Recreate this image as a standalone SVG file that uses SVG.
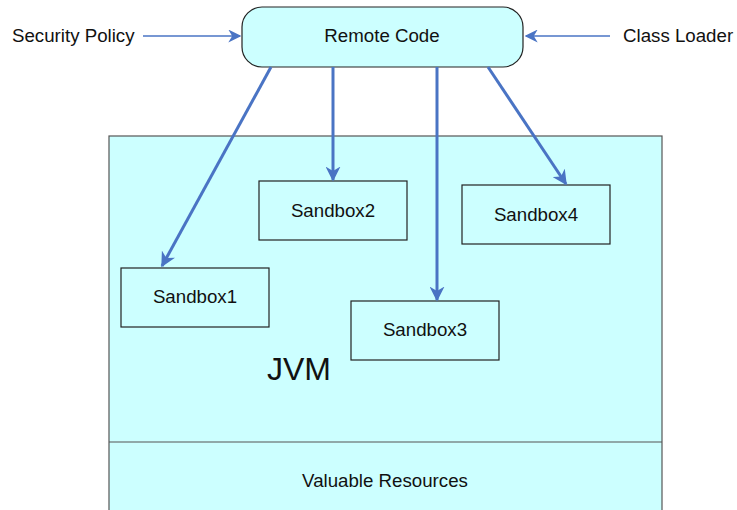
<svg xmlns="http://www.w3.org/2000/svg" width="737" height="510" viewBox="0 0 737 510">
  <style>
    .box { fill: #ccffff; stroke: #222; stroke-width: 1.2; }
    .outer { fill: #ccffff; stroke: #555; stroke-width: 1.2; }
    .lbl { font-family: "Liberation Sans", Arial, sans-serif; font-size: 18.7px; fill: #111; }
    .big { font-size: 32px; }
    .mid { text-anchor: middle; }
    .flow { stroke: #4a74c4; stroke-width: 3; fill: none; }
    .thin { stroke: #4a74c4; stroke-width: 1.3; fill: none; }
  </style>
  <defs>
    <marker id="head" viewBox="0 0 10 10" refX="9" refY="5" markerWidth="5" markerHeight="5" orient="auto" markerUnits="strokeWidth">
      <path d="M0,0 L10,5 L0,10 L3,5 Z" fill="#4a74c4"/>
    </marker>
    <marker id="headThin" viewBox="0 0 10 10" refX="9" refY="5" markerWidth="10" markerHeight="10" orient="auto" markerUnits="strokeWidth">
      <path d="M0,0 L10,5 L0,10 L3,5 Z" fill="#4a74c4"/>
    </marker>
  </defs>

  <g id="jvm">
    <rect class="outer" x="109" y="136" width="553" height="380"/>
    <line x1="109" y1="442" x2="662" y2="442" stroke="#555" stroke-width="1.2"/>
    <text class="lbl big" x="267" y="380">JVM</text>
  </g>

  <g id="resources">
    <text class="lbl mid" x="385" y="487">Valuable Resources</text>
  </g>

  <g id="remote-code">
    <rect class="box" x="242" y="7" width="281" height="60" rx="20" ry="20"/>
    <text class="lbl mid" x="382" y="42">Remote Code</text>
  </g>

  <g id="security-policy">
    <text class="lbl" x="12" y="42">Security Policy</text>
  </g>

  <g id="class-loader">
    <text class="lbl" x="623" y="42">Class Loader</text>
  </g>

  <g id="sandbox1">
    <rect class="box" x="121" y="268" width="148" height="59"/>
    <text class="lbl mid" x="195" y="303">Sandbox1</text>
  </g>

  <g id="sandbox2">
    <rect class="box" x="259" y="181" width="148" height="59"/>
    <text class="lbl mid" x="333" y="217">Sandbox2</text>
  </g>

  <g id="sandbox3">
    <rect class="box" x="351" y="301" width="148" height="59"/>
    <text class="lbl mid" x="425" y="336">Sandbox3</text>
  </g>

  <g id="sandbox4">
    <rect class="box" x="462" y="185" width="148" height="59"/>
    <text class="lbl mid" x="536" y="221">Sandbox4</text>
  </g>

  <g id="connectors">
    <line class="thin" x1="143" y1="36" x2="240" y2="36" marker-end="url(#headThin)"/>
    <line class="thin" x1="610" y1="36" x2="526" y2="36" marker-end="url(#headThin)"/>
    <line class="flow" x1="271" y1="67" x2="162" y2="266" marker-end="url(#head)"/>
    <line class="flow" x1="333" y1="67" x2="333" y2="180" marker-end="url(#head)"/>
    <line class="flow" x1="437" y1="67" x2="437" y2="300" marker-end="url(#head)"/>
    <line class="flow" x1="488" y1="67" x2="566" y2="184" marker-end="url(#head)"/>
  </g>
</svg>
